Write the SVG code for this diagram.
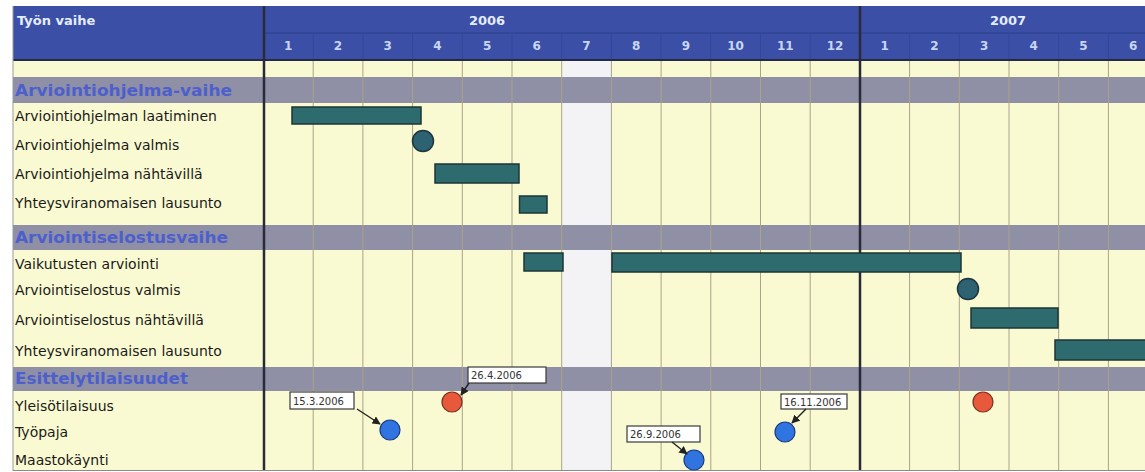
<svg xmlns="http://www.w3.org/2000/svg" width="1145" height="472" viewBox="0 0 1145 472">
<style>
.lbl{font-family:"DejaVu Sans","Liberation Sans",sans-serif;font-size:14px;fill:#1a1a1a}
.sec{font-family:"DejaVu Sans","Liberation Sans",sans-serif;font-size:15px;font-weight:bold;fill:#4d5fcc}
.hdr{font-family:"DejaVu Sans","Liberation Sans",sans-serif;font-size:13px;font-weight:bold;fill:#e4ecfa}
.mon{font-family:"DejaVu Sans","Liberation Sans",sans-serif;font-size:12px;font-weight:bold;fill:#c9d6f2;text-anchor:middle}
.cal{font-family:"DejaVu Sans","Liberation Sans",sans-serif;font-size:10px;fill:#333}
.yel{fill:#fafad2}
.band{fill:#8f8fa6}
.grid{stroke:#a8a488;stroke-width:1}
.bar{fill:#2e6b6e;stroke:#1e3535;stroke-width:1.5}
.ms{fill:#2d6272;stroke:#1d3540;stroke-width:1.5}
.red{fill:#e8583a;stroke:#7a2e1c;stroke-width:1.2}
.blue{fill:#2f74e0;stroke:#1a3a80;stroke-width:1.2}
.box{fill:#ffffff;stroke:#3a3a3a;stroke-width:1.2}
.arr{stroke:#222;stroke-width:1.4;fill:none;marker-end:url(#ah)}
</style>
<defs>
<marker id="ah" viewBox="0 0 10 10" refX="9" refY="5" markerWidth="6" markerHeight="6" orient="auto">
<path d="M0,0 L10,5 L0,10 z" fill="#222"/>
</marker>
</defs>
<g id="background">
<rect x="0" y="0" width="1145" height="472" fill="#ffffff"/>
<rect x="13" y="6" width="1132" height="54" fill="#3b4fa6"/>
<line x1="263" y1="33" x2="1145" y2="33" stroke="#30448f" stroke-width="1.5"/>
<rect class="yel" x="13" y="61" width="1132" height="16"/>
<rect class="band" x="13" y="77" width="1132" height="26"/>
<rect class="yel" x="13" y="103" width="1132" height="122"/>
<rect class="band" x="13" y="225" width="1132" height="25"/>
<rect class="yel" x="13" y="250" width="1132" height="117"/>
<rect class="band" x="13" y="367" width="1132" height="24"/>
<rect class="yel" x="13" y="391" width="1132" height="79"/>
<rect x="562.5" y="61" width="49.7" height="16" fill="#f3f3f6"/>
<rect x="562.5" y="103" width="49.7" height="122" fill="#f3f3f6"/>
<rect x="562.5" y="250" width="49.7" height="117" fill="#f3f3f6"/>
<rect x="562.5" y="391" width="49.7" height="79" fill="#f3f3f6"/>
</g>
<g id="grid">
<g class="grid">
<line x1="313.2" y1="61" x2="313.2" y2="470"/>
<line x1="362.9" y1="61" x2="362.9" y2="470"/>
<line x1="412.6" y1="61" x2="412.6" y2="470"/>
<line x1="462.3" y1="61" x2="462.3" y2="470"/>
<line x1="512" y1="61" x2="512" y2="470"/>
<line x1="561.7" y1="61" x2="561.7" y2="470"/>
<line x1="611.4" y1="61" x2="611.4" y2="470"/>
<line x1="661.1" y1="61" x2="661.1" y2="470"/>
<line x1="710.8" y1="61" x2="710.8" y2="470"/>
<line x1="760.5" y1="61" x2="760.5" y2="470"/>
<line x1="810.2" y1="61" x2="810.2" y2="470"/>
<line x1="909.6" y1="61" x2="909.6" y2="470"/>
<line x1="959.3" y1="61" x2="959.3" y2="470"/>
<line x1="1009" y1="61" x2="1009" y2="470"/>
<line x1="1058.7" y1="61" x2="1058.7" y2="470"/>
<line x1="1108.4" y1="61" x2="1108.4" y2="470"/>
</g>
<g stroke="#33489a" stroke-width="1">
<line x1="313.2" y1="33" x2="313.2" y2="59"/>
<line x1="362.9" y1="33" x2="362.9" y2="59"/>
<line x1="412.6" y1="33" x2="412.6" y2="59"/>
<line x1="462.3" y1="33" x2="462.3" y2="59"/>
<line x1="512" y1="33" x2="512" y2="59"/>
<line x1="561.7" y1="33" x2="561.7" y2="59"/>
<line x1="611.4" y1="33" x2="611.4" y2="59"/>
<line x1="661.1" y1="33" x2="661.1" y2="59"/>
<line x1="710.8" y1="33" x2="710.8" y2="59"/>
<line x1="760.5" y1="33" x2="760.5" y2="59"/>
<line x1="810.2" y1="33" x2="810.2" y2="59"/>
<line x1="909.6" y1="33" x2="909.6" y2="59"/>
<line x1="959.3" y1="33" x2="959.3" y2="59"/>
<line x1="1009" y1="33" x2="1009" y2="59"/>
<line x1="1058.7" y1="33" x2="1058.7" y2="59"/>
<line x1="1108.4" y1="33" x2="1108.4" y2="59"/>
</g>
<line x1="13" y1="60" x2="1145" y2="60" stroke="#242a48" stroke-width="2"/>
<line x1="264" y1="6" x2="264" y2="471" stroke="#2a2a38" stroke-width="2.5"/>
<line x1="860" y1="6" x2="860" y2="471" stroke="#2a2a38" stroke-width="2.5"/>
<line x1="13" y1="6" x2="13" y2="471" stroke="#9a9a9a" stroke-width="1"/>
<line x1="13" y1="470.5" x2="1145" y2="470.5" stroke="#8a8a8a" stroke-width="1"/>
</g>
<g id="header">
<text class="hdr" x="17" y="25">Työn vaihe</text>
<text class="hdr" x="487" y="25" text-anchor="middle">2006</text>
<text class="hdr" x="1008" y="25" text-anchor="middle">2007</text>
<text class="mon" x="288.3" y="50">1</text>
<text class="mon" x="338" y="50">2</text>
<text class="mon" x="387.7" y="50">3</text>
<text class="mon" x="437.4" y="50">4</text>
<text class="mon" x="487.1" y="50">5</text>
<text class="mon" x="536.8" y="50">6</text>
<text class="mon" x="586.5" y="50">7</text>
<text class="mon" x="636.2" y="50">8</text>
<text class="mon" x="685.9" y="50">9</text>
<text class="mon" x="735.6" y="50">10</text>
<text class="mon" x="785.3" y="50">11</text>
<text class="mon" x="835" y="50">12</text>
<text class="mon" x="884.7" y="50">1</text>
<text class="mon" x="934.4" y="50">2</text>
<text class="mon" x="984.1" y="50">3</text>
<text class="mon" x="1033.8" y="50">4</text>
<text class="mon" x="1083.5" y="50">5</text>
<text class="mon" x="1133.2" y="50">6</text>
</g>
<g id="labels">
<text class="sec" x="15" y="96" textLength="217" lengthAdjust="spacingAndGlyphs">Arviointiohjelma-vaihe</text>
<text class="lbl" x="15" y="121">Arviointiohjelman laatiminen</text>
<text class="lbl" x="15" y="150">Arviointiohjelma valmis</text>
<text class="lbl" x="15" y="179">Arviointiohjelma nähtävillä</text>
<text class="lbl" x="15" y="208">Yhteysviranomaisen lausunto</text>
<text class="sec" x="15" y="243" textLength="213" lengthAdjust="spacingAndGlyphs">Arviointiselostusvaihe</text>
<text class="lbl" x="15" y="269">Vaikutusten arviointi</text>
<text class="lbl" x="15" y="295">Arviointiselostus valmis</text>
<text class="lbl" x="15" y="325">Arviointiselostus nähtävillä</text>
<text class="lbl" x="15" y="356">Yhteysviranomaisen lausunto</text>
<text class="sec" x="15" y="384" textLength="173" lengthAdjust="spacingAndGlyphs">Esittelytilaisuudet</text>
<text class="lbl" x="15" y="411">Yleisötilaisuus</text>
<text class="lbl" x="15" y="437">Työpaja</text>
<text class="lbl" x="15" y="465">Maastokäynti</text>
</g>
<g id="bar-ohjelma-laatiminen"><rect class="bar" x="292" y="107" width="129" height="17"/></g>
<g id="ms-ohjelma-valmis"><circle class="ms" cx="423" cy="141" r="10.5"/></g>
<g id="bar-ohjelma-nahtavilla"><rect class="bar" x="435" y="164" width="84" height="19"/></g>
<g id="bar-lausunto-1"><rect class="bar" x="519.5" y="196" width="27.5" height="17"/></g>
<g id="bar-vaikutukset-1"><rect class="bar" x="524" y="253" width="39" height="18"/></g>
<g id="bar-vaikutukset-2"><rect class="bar" x="612" y="253" width="349" height="19"/></g>
<g id="ms-selostus-valmis"><circle class="ms" cx="968" cy="289" r="10.5"/></g>
<g id="bar-selostus-nahtavilla"><rect class="bar" x="971" y="308" width="87" height="20"/></g>
<g id="bar-lausunto-2"><rect class="bar" x="1055" y="340" width="95" height="20"/></g>
<g id="ev-yleiso-1"><circle class="red" cx="452" cy="402" r="10"/></g>
<g id="ev-yleiso-2"><circle class="red" cx="983" cy="402" r="10"/></g>
<g id="ev-tyopaja-1"><circle class="blue" cx="390" cy="430" r="10"/></g>
<g id="ev-tyopaja-2"><circle class="blue" cx="785" cy="432" r="10"/></g>
<g id="ev-maasto"><circle class="blue" cx="694" cy="460" r="10"/></g>
<g id="callout-15-3"><rect class="box" x="290" y="392" width="64" height="17"/><text class="cal" x="293" y="404.5">15.3.2006</text></g>
<g id="callout-26-4"><rect class="box" x="468" y="367" width="78" height="16"/><text class="cal" x="471" y="379">26.4.2006</text></g>
<g id="callout-26-9"><rect class="box" x="627" y="426" width="73" height="16"/><text class="cal" x="630" y="438">26.9.2006</text></g>
<g id="callout-16-11"><rect class="box" x="781" y="394" width="66" height="15"/><text class="cal" x="784" y="405.5">16.11.2006</text></g>
<g id="connectors">
<line class="arr" x1="357" y1="409" x2="380" y2="424"/>
<line class="arr" x1="469" y1="383" x2="461" y2="395"/>
<line class="arr" x1="672" y1="442" x2="687" y2="454"/>
<line class="arr" x1="806" y1="409" x2="792" y2="423"/>
</g>
</svg>
